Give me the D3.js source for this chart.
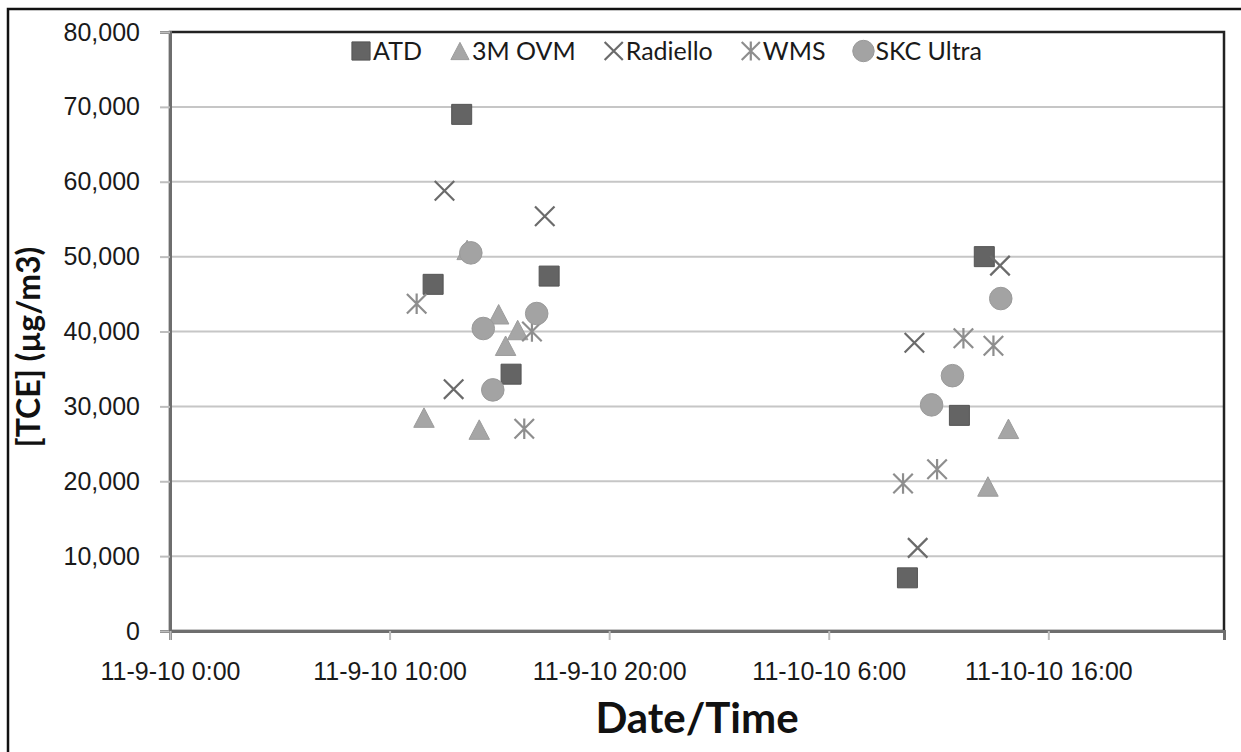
<!DOCTYPE html>
<html>
<head>
<meta charset="utf-8">
<script src="https://cdn.jsdelivr.net/npm/d3@7"></script>
<style>
  body { margin: 0; background: #fff; }
  svg { display: block; font-family: Lato, "Open Sans", sans-serif; }
</style>
</head>
<body>
<svg></svg>
<script>
// series data: [date/time, TCE in ug/m3]
let atd = [
    ['2010-11-09 11:59', 46300], ['2010-11-09 13:17', 69000], ['2010-11-09 15:32', 34300],
    ['2010-11-09 17:16', 47400], ['2010-11-10 09:35', 7100], ['2010-11-10 11:57', 28800],
    ['2010-11-10 13:05', 50000]
];
let ovm = [
    ['2010-11-09 11:34', 28500], ['2010-11-09 13:32', 50900], ['2010-11-09 14:05', 26900],
    ['2010-11-09 14:58', 42300], ['2010-11-09 15:17', 38100], ['2010-11-09 15:50', 40200],
    ['2010-11-10 13:15', 19300], ['2010-11-10 14:11', 27000]
];
let radiello = [
    ['2010-11-09 12:30', 58800], ['2010-11-09 12:55', 32300], ['2010-11-09 17:04', 55400],
    ['2010-11-10 10:03', 11100], ['2010-11-10 13:48', 48800], ['2010-11-10 09:54', 38500]
];
let wms = [
    ['2010-11-09 11:14', 43700], ['2010-11-09 16:29', 40000], ['2010-11-09 16:08', 27000],
    ['2010-11-10 12:08', 39100], ['2010-11-10 13:30', 38100], ['2010-11-10 09:23', 19700],
    ['2010-11-10 10:56', 21600]
];
let skc = [
    ['2010-11-09 13:42', 50500], ['2010-11-09 14:16', 40400], ['2010-11-09 14:42', 32200],
    ['2010-11-09 16:42', 42400], ['2010-11-10 11:38', 34100], ['2010-11-10 10:41', 30200],
    ['2010-11-10 13:50', 44400]
];

let seriesNames = ['ATD', '3M OVM', 'Radiello', 'WMS', 'SKC Ultra'];
let yTicks = [0, 10000, 20000, 30000, 40000, 50000, 60000, 70000, 80000];
let xTicks = ['2010-11-09 00:00', '2010-11-09 10:00', '2010-11-09 20:00', '2010-11-10 06:00', '2010-11-10 16:00'];
let xDomain = ['2010-11-09 00:00', '2010-11-11 00:00'];

let width = 1241, height = 752;
let plotLeft = 170, plotRight = 1224, plotTop = 32, plotBottom = 631;

let parse = d3.timeParse('%Y-%m-%d %H:%M');
let fmtTime = d3.timeFormat('%-m-%-d-%y %-H:%M');

let svg = d3.select('svg').attr('width', width).attr('height', height);

// marker shapes (bounding box centred on the point)
let squareSym = { draw: (c, s) => { let h = Math.sqrt(s) / 2; c.rect(-h, -h, 2 * h, 2 * h); } };
let triSym = { draw: (c, s) => { let w = Math.sqrt(s) / 2, h = w * 0.95; c.moveTo(0, -h); c.lineTo(w, h); c.lineTo(-w, h); c.closePath(); } };
let xSym = { draw: (c, s) => { let h = Math.sqrt(s) / 2; c.moveTo(-h, -h); c.lineTo(h, h); c.moveTo(-h, h); c.lineTo(h, -h); } };
let starSym = { draw: (c, s) => { let h = Math.sqrt(s) / 2; c.moveTo(-h, -h); c.lineTo(h, h); c.moveTo(-h, h); c.lineTo(h, -h); c.moveTo(0, -h * 1.05); c.lineTo(0, h * 1.05); } };

let styles = [
    { data: atd, type: squareSym, size: 400, fill: '#646464', stroke: '#555', sw: 1 },
    { data: ovm, type: triSym, size: 420, fill: '#a6a6a6', stroke: '#9c9c9c', sw: 1 },
    { data: radiello, type: xSym, size: 380, fill: 'none', stroke: '#6b6b6b', sw: 2.2 },
    { data: wms, type: starSym, size: 380, fill: 'none', stroke: '#8e8e8e', sw: 2.2 },
    { data: skc, type: d3.symbolCircle, size: 400, fill: '#a3a3a3', stroke: '#9a9a9a', sw: 1 }
];

let x = d3.scaleTime().domain(xDomain.map(parse)).range([plotLeft, plotRight]);
let y = d3.scaleLinear().domain([0, 80000]).range([plotBottom, plotTop]);

// outer frame
svg.append('rect').attr('x', 8).attr('y', 9).attr('width', 1300).attr('height', 800)
    .attr('fill', 'none').attr('stroke', '#111').attr('stroke-width', 2.5);

// gridlines
svg.append('g').selectAll('line').data(yTicks.slice(1)).enter().append('line')
    .attr('x1', plotLeft).attr('x2', plotRight)
    .attr('y1', d => y(d)).attr('y2', d => y(d))
    .attr('stroke', '#c6c6c6').attr('stroke-width', 2);

// plot frame
svg.append('rect').attr('x', plotLeft).attr('y', plotTop)
    .attr('width', plotRight - plotLeft).attr('height', plotBottom - plotTop)
    .attr('fill', 'none').attr('stroke', '#222').attr('stroke-width', 2.5);

// axes
let yAxis = svg.append('g').attr('transform', `translate(${plotLeft},0)`)
    .call(d3.axisLeft(y).tickValues(yTicks).tickFormat(d3.format(',')).tickSize(10).tickPadding(20));
let xAxis = svg.append('g').attr('transform', `translate(0,${plotBottom})`)
    .call(d3.axisBottom(x).tickValues(xTicks.map(parse)).tickFormat(fmtTime).tickSize(9).tickPadding(22));

[yAxis, xAxis].forEach(a => {
    a.select('.domain').attr('stroke', '#6e6e6e').attr('stroke-width', 3);
    a.selectAll('.tick line').attr('stroke', '#bdbdbd').attr('stroke-width', 2);
    a.selectAll('.tick text').attr('fill', '#1a1a1a').style('font-size', '25px');
});

// points
styles.forEach(s => {
    svg.append('g').selectAll('path').data(s.data).enter().append('path')
        .attr('transform', d => `translate(${x(parse(d[0]))},${y(d[1])})`)
        .attr('d', d3.symbol().type(s.type).size(s.size))
        .attr('fill', s.fill).attr('stroke', s.stroke).attr('stroke-width', s.sw);
});

// legend
let lx = 352;
let legend = svg.append('g').attr('transform', 'translate(0,51)');
seriesNames.forEach((name, i) => {
    let s = styles[i];
    legend.append('path')
        .attr('transform', `translate(${lx + 9},0)`)
        .attr('d', d3.symbol().type(s.type).size(i === 4 ? 360 : 330))
        .attr('fill', s.fill).attr('stroke', s.stroke).attr('stroke-width', s.sw);
    let t = legend.append('text').attr('x', lx + 21).attr('y', 9)
        .style('font-size', '25px').attr('fill', '#1a1a1a').text(name);
    lx += 21 + t.node().getComputedTextLength() + 29;
});

// axis titles
svg.append('text').attr('transform', 'translate(40,347) rotate(-90)')
    .attr('text-anchor', 'middle').style('font-size', '32px').style('font-weight', 'bold')
    .attr('fill', '#111').text('[TCE] (µg/m3)');
svg.append('text').attr('x', (plotLeft + plotRight) / 2).attr('y', 733)
    .attr('text-anchor', 'middle').style('font-size', '42px').style('font-weight', 'bold')
    .attr('fill', '#111').text('Date/Time');
</script>
</body>
</html>
